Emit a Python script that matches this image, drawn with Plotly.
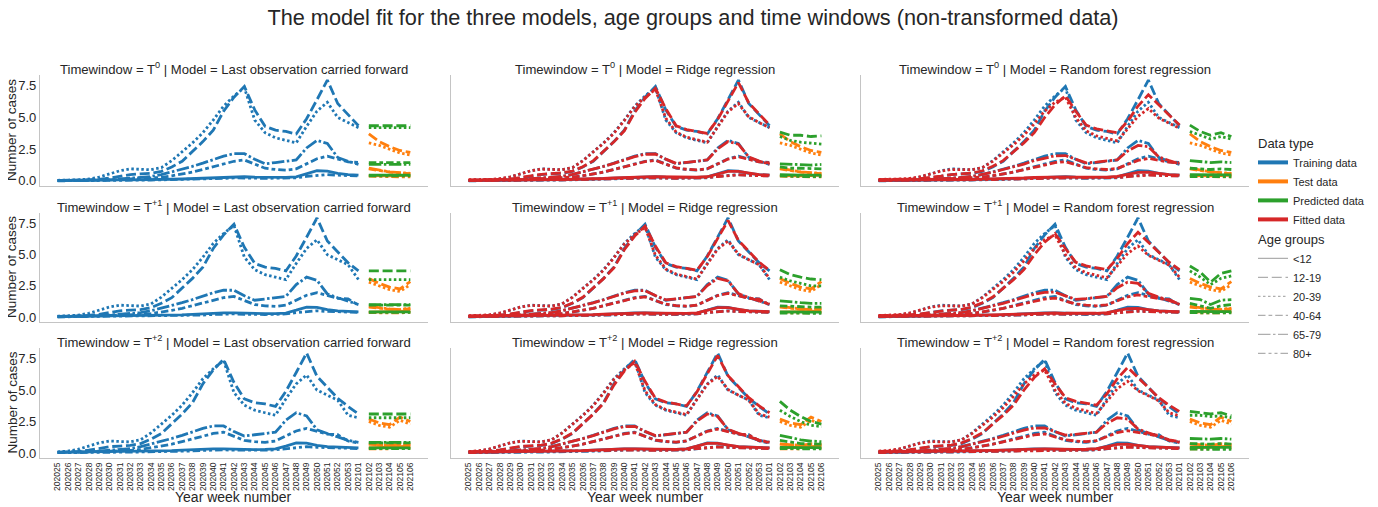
import plotly.graph_objects as go

# week labels: 202025..202053, 202101..202108 (the last two only used by the shifted windows)
weeks = [str(w) for w in range(202025, 202054)] + [str(w) for w in range(202101, 202109)]
shown_weeks = weeks[:35]

age_groups = ["<12", "12-19", "20-39", "40-64", "65-79", "80+"]
time_windows = ["0", "+1", "+2"]
models = ["Last observation carried forward", "Ridge regression", "Random forest regression"]

# observed cases per age group, week 202025 .. 202108
obs_lt12 = [0.03, 0.03, 0.04, 0.05, 0.06, 0.07, 0.08, 0.09, 0.09, 0.1, 0.11, 0.13, 0.15, 0.18, 0.22, 0.27, 0.3, 0.33,
            0.33, 0.3, 0.28, 0.27, 0.28, 0.32, 0.55, 0.8, 0.78, 0.6, 0.5, 0.45, 0.42, 0.4, 0.4, 0.42, 0.45, 0.5, 0.55]
obs_12_19 = [0.03, 0.04, 0.06, 0.08, 0.12, 0.22, 0.38, 0.5, 0.55, 0.6, 0.75, 1.1, 1.55, 2.3, 3.1, 4.0, 5.5, 6.6,
             7.45, 5.6, 4.3, 4.0, 3.9, 3.7, 4.9, 6.4, 7.95, 6.1, 5.2, 4.35, 3.7, 3.1, 2.7, 2.4, 2.25, 2.85, 2.5]
obs_20_39 = [0.05, 0.06, 0.09, 0.15, 0.3, 0.55, 0.8, 0.95, 0.9, 0.88, 1.05, 1.6, 2.3, 3.0, 3.8, 4.8, 5.9, 6.7,
             7.35, 4.8, 3.8, 3.4, 3.2, 3.0, 4.3, 5.5, 6.2, 5.0, 4.6, 4.2, 3.0, 2.8, 2.5, 2.2, 2.05, 2.6, 2.3]
obs_40_64 = [0.02, 0.02, 0.03, 0.04, 0.06, 0.08, 0.12, 0.15, 0.17, 0.2, 0.28, 0.4, 0.53, 0.7, 0.9, 1.1, 1.35, 1.55,
             1.65, 1.3, 1.0, 0.9, 0.85, 0.95, 1.35, 1.75, 1.95, 1.7, 1.5, 1.45, 0.95, 0.8, 0.7, 0.62, 0.58, 0.68, 0.62]
obs_65_79 = [0.02, 0.03, 0.04, 0.05, 0.07, 0.1, 0.15, 0.2, 0.25, 0.35, 0.5, 0.7, 0.93, 1.15, 1.4, 1.7, 1.95, 2.15,
             2.15, 1.7, 1.35, 1.45, 1.55, 1.65, 2.6, 3.2, 2.95, 1.85, 1.55, 1.3, 1.0, 0.85, 0.72, 0.65, 0.6, 0.72, 0.68]
obs_80p = [0.01, 0.01, 0.02, 0.02, 0.03, 0.04, 0.05, 0.06, 0.06, 0.07, 0.08, 0.09, 0.1, 0.12, 0.14, 0.16, 0.2, 0.24,
           0.25, 0.22, 0.2, 0.2, 0.22, 0.25, 0.35, 0.45, 0.5, 0.45, 0.4, 0.4, 0.38, 0.35, 0.33, 0.32, 0.33, 0.38, 0.36]
observed = dict(zip(age_groups, [obs_lt12, obs_12_19, obs_20_39, obs_40_64, obs_65_79, obs_80p]))

# fitted values, week 202025 .. 202102
ridge_lt12 = [0.05, 0.05, 0.06, 0.07, 0.07, 0.08, 0.09, 0.1, 0.1, 0.11, 0.12, 0.14, 0.16, 0.19, 0.23, 0.27, 0.3, 0.32,
              0.33, 0.31, 0.29, 0.28, 0.29, 0.33, 0.52, 0.76, 0.76, 0.6, 0.5, 0.46, 0.43, 0.41]
ridge_12_19 = [0.08, 0.08, 0.09, 0.11, 0.15, 0.25, 0.4, 0.52, 0.57, 0.63, 0.78, 1.12, 1.58, 2.3, 3.08, 3.95, 5.4, 6.5,
               7.3, 5.7, 4.35, 4.05, 3.92, 3.75, 4.85, 6.3, 7.75, 6.15, 5.25, 4.4, 3.75, 3.2]
ridge_20_39 = [0.1, 0.1, 0.12, 0.18, 0.32, 0.56, 0.8, 0.93, 0.9, 0.88, 1.05, 1.58, 2.28, 2.97, 3.75, 4.75, 5.85, 6.6,
               7.2, 4.95, 3.85, 3.45, 3.25, 3.05, 4.25, 5.45, 6.1, 5.05, 4.6, 4.2, 3.1, 2.85]
ridge_40_64 = [0.05, 0.05, 0.06, 0.07, 0.08, 0.1, 0.14, 0.17, 0.19, 0.22, 0.3, 0.41, 0.54, 0.7, 0.9, 1.1, 1.33, 1.52,
               1.62, 1.32, 1.03, 0.92, 0.87, 0.96, 1.33, 1.72, 1.9, 1.7, 1.5, 1.43, 0.98, 0.82]
ridge_65_79 = [0.05, 0.05, 0.06, 0.07, 0.09, 0.12, 0.17, 0.22, 0.27, 0.36, 0.51, 0.7, 0.92, 1.14, 1.38, 1.67, 1.92, 2.1,
               2.12, 1.72, 1.38, 1.46, 1.55, 1.65, 2.52, 3.1, 2.9, 1.88, 1.56, 1.32, 1.03, 0.87]
ridge_80p = [0.04, 0.04, 0.04, 0.05, 0.05, 0.06, 0.07, 0.08, 0.08, 0.09, 0.1, 0.11, 0.12, 0.13, 0.15, 0.17, 0.21, 0.24,
             0.25, 0.23, 0.21, 0.21, 0.23, 0.26, 0.35, 0.44, 0.48, 0.44, 0.4, 0.39, 0.37, 0.35]
ridge_fit = dict(zip(age_groups, [ridge_lt12, ridge_12_19, ridge_20_39, ridge_40_64, ridge_65_79, ridge_80p]))

rf_lt12 = [0.06, 0.06, 0.06, 0.07, 0.08, 0.08, 0.09, 0.1, 0.11, 0.12, 0.13, 0.15, 0.17, 0.2, 0.23, 0.27, 0.3, 0.31,
           0.32, 0.3, 0.29, 0.28, 0.3, 0.35, 0.5, 0.68, 0.7, 0.58, 0.5, 0.46, 0.43, 0.41]
rf_12_19 = [0.1, 0.1, 0.12, 0.14, 0.18, 0.26, 0.38, 0.5, 0.56, 0.62, 0.8, 1.15, 1.6, 2.3, 3.0, 3.8, 5.0, 6.0,
            6.7, 5.5, 4.4, 4.1, 3.95, 3.8, 4.7, 5.9, 6.8, 6.0, 5.2, 4.4, 3.8, 3.3]
rf_20_39 = [0.12, 0.12, 0.15, 0.2, 0.33, 0.55, 0.78, 0.9, 0.88, 0.88, 1.05, 1.55, 2.2, 2.85, 3.6, 4.5, 5.5, 6.2,
            6.6, 5.0, 3.95, 3.55, 3.35, 3.15, 4.1, 5.1, 5.7, 4.95, 4.55, 4.15, 3.2, 2.95]
rf_40_64 = [0.06, 0.06, 0.07, 0.08, 0.09, 0.11, 0.14, 0.17, 0.2, 0.23, 0.3, 0.41, 0.54, 0.7, 0.88, 1.06, 1.27, 1.44,
            1.52, 1.3, 1.05, 0.95, 0.9, 0.98, 1.3, 1.62, 1.78, 1.62, 1.48, 1.4, 1.0, 0.85]
rf_65_79 = [0.06, 0.06, 0.07, 0.08, 0.1, 0.13, 0.17, 0.22, 0.27, 0.36, 0.5, 0.68, 0.9, 1.1, 1.33, 1.6, 1.82, 1.98,
            2.0, 1.7, 1.42, 1.48, 1.56, 1.66, 2.35, 2.8, 2.7, 1.9, 1.6, 1.35, 1.05, 0.9]
rf_80p = [0.05, 0.05, 0.05, 0.05, 0.06, 0.06, 0.07, 0.08, 0.08, 0.09, 0.1, 0.11, 0.12, 0.13, 0.15, 0.17, 0.2, 0.23,
          0.24, 0.23, 0.21, 0.21, 0.23, 0.26, 0.34, 0.42, 0.46, 0.43, 0.4, 0.39, 0.37, 0.35]
rf_fit = dict(zip(age_groups, [rf_lt12, rf_12_19, rf_20_39, rf_40_64, rf_65_79, rf_80p]))

# predictions for the five test weeks, per model and time window (age order as age_groups)
locf_pred_t0 = [[0.45] * 5, [4.35] * 5, [4.2] * 5, [1.45] * 5, [1.3] * 5, [0.4] * 5]
locf_pred_t1 = [[0.42] * 5, [3.7] * 5, [3.0] * 5, [0.95] * 5, [1.0] * 5, [0.38] * 5]
locf_pred_t2 = [[0.4] * 5, [3.1] * 5, [2.8] * 5, [0.8] * 5, [0.85] * 5, [0.35] * 5]
ridge_pred_t0 = [[0.5, 0.45, 0.45, 0.45, 0.45], [3.85, 3.6, 3.6, 3.5, 3.55], [3.5, 3.2, 3.05, 2.95, 2.9],
                 [1.1, 1.0, 1.0, 0.95, 0.95], [1.35, 1.3, 1.3, 1.25, 1.3], [0.4, 0.35, 0.35, 0.35, 0.35]]
ridge_pred_t1 = [[0.42, 0.4, 0.4, 0.4, 0.4], [3.8, 3.4, 3.2, 3.05, 3.0], [3.2, 2.9, 2.7, 2.5, 2.5],
                 [0.9, 0.85, 0.8, 0.8, 0.8], [1.3, 1.2, 1.15, 1.1, 1.1], [0.32, 0.3, 0.3, 0.3, 0.3]]
ridge_pred_t2 = [[0.45, 0.42, 0.42, 0.42, 0.42], [4.1, 3.4, 2.9, 2.5, 2.3], [3.4, 2.9, 2.5, 2.2, 2.1],
                 [1.0, 0.85, 0.75, 0.7, 0.7], [1.4, 1.2, 1.05, 0.95, 0.9], [0.35, 0.33, 0.32, 0.32, 0.32]]
rf_pred_t0 = [[0.5, 0.48, 0.47, 0.48, 0.47], [4.4, 3.9, 3.6, 3.8, 3.5], [3.9, 3.6, 3.3, 3.5, 3.3],
              [1.0, 0.95, 0.9, 0.95, 0.9], [1.6, 1.5, 1.45, 1.5, 1.45], [0.35, 0.34, 0.33, 0.34, 0.33]]
rf_pred_t1 = [[0.45, 0.43, 0.4, 0.43, 0.44], [4.1, 3.6, 2.8, 3.5, 3.7], [3.7, 3.2, 2.6, 3.1, 3.3],
              [1.1, 0.9, 0.7, 0.9, 1.0], [1.5, 1.4, 1.0, 1.35, 1.4], [0.35, 0.33, 0.3, 0.33, 0.34]]
rf_pred_t2 = [[0.45, 0.45, 0.44, 0.45, 0.44], [3.3, 3.2, 3.1, 3.2, 2.95], [3.0, 3.0, 2.9, 2.95, 2.8],
              [0.75, 0.7, 0.7, 0.75, 0.7], [1.15, 1.1, 1.1, 1.15, 1.1], [0.3, 0.3, 0.29, 0.3, 0.29]]
predictions = {
    0: [locf_pred_t0, locf_pred_t1, locf_pred_t2],
    1: [ridge_pred_t0, ridge_pred_t1, ridge_pred_t2],
    2: [rf_pred_t0, rf_pred_t1, rf_pred_t2],
}
fitted = {1: ridge_fit, 2: rf_fit}

data_types = ["Training data", "Test data", "Predicted data", "Fitted data"]
colors = {"Training data": "#1f77b4", "Test data": "#ff7f0e", "Predicted data": "#2ca02c", "Fitted data": "#d62728"}
dashes = {"<12": "solid", "12-19": "10px,3.75px", "20-39": "2.5px,2.5px", "40-64": "7.5px,3px,3.75px,3px",
          "65-79": "12.5px,2.5px,2.5px,2.5px", "80+": "7.5px,3px,3px,3px,3px,3px"}

LW = 2.8
TXT = "#262626"
FONT = "Liberation Sans, Arial, sans-serif"

# the page body adds an 8px offset, so the figure is 8px smaller than the window
W, H = 1370, 499
col_dom = [[0.0, 0.3209], [0.34, 0.6609], [0.6791, 1.0]]
row_dom = [[0.7102, 1.0], [0.3551, 0.6397], [0.0, 0.2872]]

fig = go.Figure()
layout = {}
annotations = []

for r, tw in enumerate(time_windows):
    for c, model in enumerate(models):
        n = r * 3 + c + 1
        xs = "x" if n == 1 else "x%d" % n
        ys = "y" if n == 1 else "y%d" % n

        def add(x, y, dtype, age):
            fig.add_trace(go.Scatter(x=x, y=y, mode="lines", xaxis=xs, yaxis=ys, showlegend=False,
                                     line=dict(color=colors[dtype], width=LW, dash=dashes[age]),
                                     hoverinfo="skip"))

        for age in age_groups:
            add(shown_weeks[:30], observed[age][r:r + 30], "Training data", age)
        for age in age_groups:
            add(shown_weeks[30:35], observed[age][r + 30:r + 35], "Test data", age)
        for i, age in enumerate(age_groups):
            add(shown_weeks[30:35], predictions[c][r][i], "Predicted data", age)
        if c in fitted:
            for age in age_groups:
                add(shown_weeks[:30], fitted[c][age][r:r + 30], "Fitted data", age)

        layout["xaxis" if n == 1 else "xaxis%d" % n] = dict(
            domain=col_dom[c], anchor=ys, type="category", categoryorder="array", categoryarray=shown_weeks,
            range=[-1.7, 35.7], showgrid=False, zeroline=False, showline=True, linecolor="#c4c4c4",
            linewidth=1.3, ticks="", showticklabels=(r == 2), tickangle=-90, automargin=False,
            tickfont=dict(size=8.5, color=TXT, family=FONT), tickvals=shown_weeks)
        layout["yaxis" if n == 1 else "yaxis%d" % n] = dict(
            domain=row_dom[r], anchor=xs, range=[-0.4, 8.35], showgrid=False, zeroline=False, showline=True,
            linecolor="#c4c4c4", linewidth=1.3, ticks="", showticklabels=(c == 0), automargin=False,
            tickvals=[0, 2.5, 5, 7.5], ticktext=["0.0", "2.5", "5.0", "7.5"],
            tickfont=dict(size=13, color=TXT, family=FONT))

        annotations.append(dict(
            text="Timewindow = T<sup>%s</sup> | Model = %s" % (tw, model), xref="paper", yref="paper",
            x=(col_dom[c][0] + col_dom[c][1]) / 2, y=row_dom[r][1], xanchor="center", yanchor="bottom",
            yshift=-4, showarrow=False, font=dict(size=13.1, color=TXT, family=FONT)))

    annotations.append(dict(text="Number of cases", xref="paper", yref="paper", x=-0.0235,
                            y=(row_dom[r][0] + row_dom[r][1]) / 2, xanchor="center", yanchor="middle",
                            textangle=-90, showarrow=False, font=dict(size=13.5, color=TXT, family=FONT)))

for c in range(3):
    annotations.append(dict(text="Year week number", xref="paper", yref="paper",
                            x=(col_dom[c][0] + col_dom[c][1]) / 2, y=-0.102, xanchor="center", yanchor="middle",
                            showarrow=False, font=dict(size=14, color=TXT, family=FONT)))

# legend entries
for i, dtype in enumerate(data_types):
    fig.add_trace(go.Scatter(x=[None], y=[None], mode="lines", name=dtype, legendgroup="dtype",
                             legendgrouptitle=dict(text="Data type", font=dict(size=13, color=TXT, family=FONT)) if i == 0 else None,
                             line=dict(color=colors[dtype], width=4)))
for i, age in enumerate(age_groups):
    fig.add_trace(go.Scatter(x=[None], y=[None], mode="lines", name=age, legendgroup="age",
                             legendgrouptitle=dict(text="Age groups", font=dict(size=13, color=TXT, family=FONT)) if i == 0 else None,
                             line=dict(color="#9a9a9a", width=1, dash=dashes[age])))

fig.update_layout(
    width=W, height=H,
    margin=dict(l=32, r=129, t=67, b=49, autoexpand=False),
    paper_bgcolor="white", plot_bgcolor="white",
    font=dict(family=FONT, color=TXT),
    title=dict(text="The model fit for the three models, age groups and time windows (non-transformed data)",
               x=0.5, xref="container", xanchor="center", y=1 - 9 / H, yref="container", yanchor="middle",
               font=dict(size=21.7, color=TXT, family=FONT)),
    legend=dict(x=1245 / W, y=1 - 120 / H, xref="container", yref="container", xanchor="left", yanchor="top",
                tracegroupgap=0, traceorder="grouped", itemwidth=30,
                font=dict(size=11, color=TXT, family=FONT), bgcolor="rgba(0,0,0,0)"),
    annotations=annotations,
    **layout,
)

fig.write_html("out.html")
